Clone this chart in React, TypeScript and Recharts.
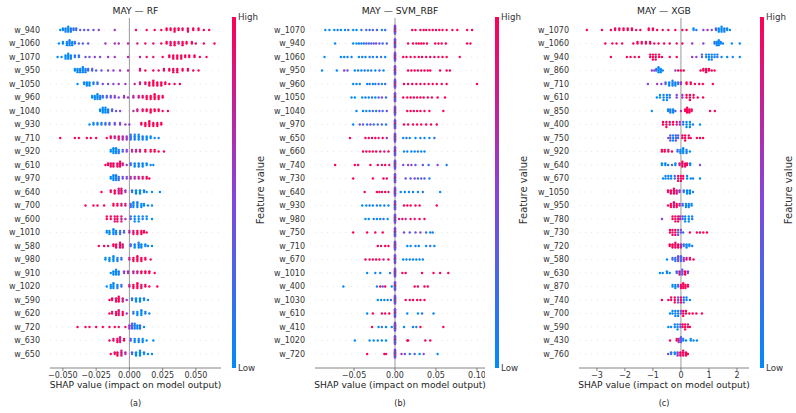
import { useMemo } from "react";
import { ScatterChart, Scatter, XAxis, YAxis, ReferenceLine } from "recharts";

// [shap value, feature value 0 (low) .. 1 (high), count]
type Pt = [number, number, number];

const RF_FEATURES = ["w_940", "w_1060", "w_1070", "w_950", "w_1050", "w_960", "w_1040", "w_930", "w_710", "w_920", "w_610", "w_970", "w_640", "w_700", "w_600", "w_1010", "w_580", "w_980", "w_910", "w_1020", "w_590", "w_620", "w_720", "w_630", "w_650"];
const RF_POINTS: Pt[][] = [
  [[-0.052,0,1],[-0.050,0,2],[-0.048,0.1,3],[-0.046,0,4],[-0.044,0.1,3],[-0.042,0.2,2],[-0.040,0.2,2],[-0.037,0.3,1],[-0.034,0.4,1],[-0.031,0.3,1],[-0.027,0.4,1],[-0.023,0.5,1],[-0.011,0.6,1],[0.005,0.9,1],[0.013,1,1],[0.019,1,1],[0.024,1,1],[0.028,1,2],[0.031,1,2],[0.034,1,3],[0.037,1,2],[0.040,0.9,2],[0.044,1,3],[0.048,1,2],[0.052,1,2],[0.056,1,1],[0.060,1,1]],
  [[-0.053,0,1],[-0.050,0,2],[-0.047,0,3],[-0.045,0.1,4],[-0.043,0,3],[-0.041,0.2,2],[-0.038,0.3,1],[-0.035,0.3,1],[-0.031,0.4,1],[-0.018,0.6,1],[-0.011,0.6,1],[-0.008,0.7,1],[-0.001,0.7,1],[0.006,0.8,1],[0.012,0.9,1],[0.018,0.9,1],[0.024,1,1],[0.028,1,2],[0.031,0.9,3],[0.034,1,3],[0.037,0.8,2],[0.040,1,3],[0.043,1,2],[0.047,1,2],[0.050,0.9,1],[0.056,1,1],[0.064,1,1]],
  [[-0.054,0,1],[-0.051,0,1],[-0.048,0,3],[-0.046,0,4],[-0.044,0.1,3],[-0.041,0.1,2],[-0.038,0.2,2],[-0.033,0.4,1],[-0.030,0.4,1],[-0.026,0.5,1],[-0.022,0.5,1],[-0.016,0.6,1],[-0.011,0.6,1],[-0.001,0.7,1],[0.008,0.8,1],[0.013,0.9,1],[0.018,0.9,1],[0.025,1,1],[0.030,1,2],[0.033,1,3],[0.036,1,3],[0.039,0.9,3],[0.042,1,2],[0.045,1,2],[0.049,1,2],[0.053,1,1],[0.058,1,1]],
  [[-0.041,0,2],[-0.039,0,3],[-0.037,0.1,3],[-0.035,0,4],[-0.033,0.1,3],[-0.031,0.2,2],[-0.028,0.3,2],[-0.025,0.3,1],[-0.021,0.4,1],[-0.016,0.5,1],[-0.012,0.5,1],[-0.007,0.6,1],[-0.001,0.7,1],[0.008,0.9,2],[0.012,1,1],[0.018,1,1],[0.022,0.9,1],[0.026,1,2],[0.030,1,2],[0.033,1,3],[0.036,1,3],[0.040,1,2],[0.044,1,2],[0.048,1,1],[0.052,1,1]],
  [[-0.039,0,1],[-0.034,0,2],[-0.032,0,3],[-0.030,0,3],[-0.027,0.1,2],[-0.024,0.2,2],[-0.020,0.4,1],[-0.016,0.4,1],[-0.012,0.5,1],[-0.008,0.6,1],[-0.003,0.6,1],[0.004,0.8,1],[0.008,0.8,2],[0.012,0.9,2],[0.015,1,3],[0.018,1,4],[0.021,1,3],[0.024,1,3],[0.027,1,2],[0.030,1,1],[0.034,1,1],[0.038,1,1]],
  [[-0.028,0,2],[-0.026,0,3],[-0.024,0,4],[-0.022,0.1,3],[-0.020,0.2,2],[-0.017,0.3,2],[-0.014,0.4,2],[-0.011,0.5,2],[-0.008,0.5,1],[-0.004,0.6,2],[-0.001,0.6,1],[0.003,0.7,2],[0.007,0.8,2],[0.010,0.9,2],[0.013,1,3],[0.016,1,3],[0.019,1,4],[0.022,1,3],[0.025,1,2]],
  [[-0.022,0,2],[-0.020,0,4],[-0.018,0,4],[-0.016,0.1,3],[-0.013,0.3,2],[-0.010,0.4,1],[-0.007,0.5,1],[0.003,0.7,1],[0.006,0.8,2],[0.010,0.9,2],[0.013,1,2],[0.016,1,3],[0.019,1,2],[0.022,1,2],[0.025,1,1],[0.029,1,1]],
  [[-0.030,0,1],[-0.027,0,2],[-0.024,0.1,2],[-0.021,0.1,2],[-0.018,0.2,2],[-0.015,0.3,2],[-0.011,0.4,2],[-0.007,0.5,2],[-0.003,0.6,1],[0.000,0.5,1],[0.009,1,2],[0.012,1,3],[0.015,1,4],[0.018,1,3],[0.021,1,3],[0.024,1,2]],
  [[-0.052,1,1],[-0.041,1,1],[-0.038,1,1],[-0.032,1,1],[-0.029,1,1],[-0.025,1,1],[-0.017,0.9,1],[-0.014,1,2],[-0.011,0.8,2],[-0.008,0.9,3],[-0.005,0.7,3],[-0.002,0.6,3],[0.001,0.2,4],[0.004,0.1,4],[0.007,0,4],[0.010,0.1,3],[0.013,0,3],[0.016,0,2],[0.019,0,1],[0.022,0.1,1]],
  [[-0.014,0,2],[-0.012,0,4],[-0.010,0,4],[-0.008,0.1,3],[-0.005,0.3,2],[-0.002,0.5,2],[0.002,0.7,2],[0.005,0.8,2],[0.008,0.9,2],[0.012,1,2],[0.016,1,2],[0.019,1,2],[0.022,1,1],[0.026,1,1]],
  [[-0.018,1,1],[-0.016,1,2],[-0.014,0.9,3],[-0.012,1,3],[-0.009,0.9,3],[-0.007,1,4],[-0.005,0.8,2],[-0.002,0.6,1],[0.001,0.3,2],[0.004,0,3],[0.007,0.1,3],[0.010,0,3],[0.013,0,2],[0.016,0.1,1],[0.018,0,1]],
  [[-0.014,0,2],[-0.012,0,4],[-0.010,0.1,4],[-0.008,0.2,3],[-0.005,0.4,2],[-0.002,0.5,2],[0.001,0.6,2],[0.004,0.7,2],[0.007,0.8,2],[0.010,0.9,2],[0.013,1,2],[0.015,1,1]],
  [[-0.021,1,1],[-0.014,0.9,2],[-0.011,1,3],[-0.008,0.8,4],[-0.006,0.9,4],[-0.003,0.6,2],[0.002,0.2,2],[0.005,0,3],[0.008,0,3],[0.011,0.1,2],[0.013,0,1],[0.017,0,1],[0.023,0,1]],
  [[-0.033,1,1],[-0.027,1,1],[-0.024,1,1],[-0.019,1,1],[-0.012,1,2],[-0.009,1,2],[-0.006,0.9,2],[-0.003,0.8,2],[0.001,0.3,3],[0.003,0,4],[0.006,0.1,4],[0.009,0,3],[0.011,0,2],[0.014,0.1,1],[0.017,0,1]],
  [[-0.017,1,2],[-0.014,1,2],[-0.011,0.9,3],[-0.009,1,3],[-0.006,0.8,3],[-0.003,0.6,1],[0.001,0.3,2],[0.004,0,3],[0.007,0,3],[0.010,0.1,2],[0.013,0,2],[0.017,0,1]],
  [[-0.017,0,2],[-0.015,0,3],[-0.012,0,4],[-0.010,0.1,3],[-0.007,0.2,3],[-0.004,0.3,2],[0.000,0.7,2],[0.003,0.9,3],[0.006,1,3],[0.009,1,3],[0.011,1,2],[0.013,1,1]],
  [[-0.023,1,1],[-0.019,1,1],[-0.016,0.9,1],[-0.012,1,2],[-0.010,0.9,3],[-0.007,1,4],[-0.005,0.8,3],[0.001,0.3,2],[0.004,0,3],[0.007,0.1,4],[0.009,0,3],[0.012,0,2],[0.014,0.1,1],[0.017,0,1]],
  [[-0.018,0,2],[-0.015,0,3],[-0.012,0,4],[-0.009,0.1,3],[-0.006,0.2,2],[0.000,0.8,2],[0.003,1,3],[0.006,1,4],[0.009,1,3],[0.012,1,2],[0.016,0.9,1]],
  [[-0.014,0,1],[-0.012,0,3],[-0.010,0,4],[-0.008,0.1,3],[-0.004,0.5,2],[-0.001,0.6,2],[0.003,0.7,2],[0.006,0.8,2],[0.009,1,2],[0.012,1,2],[0.015,1,2],[0.019,1,1]],
  [[-0.017,0,1],[-0.014,0,3],[-0.012,0,4],[-0.009,0.1,3],[-0.006,0.2,2],[0.000,0.8,2],[0.003,1,3],[0.006,1,4],[0.009,0.9,3],[0.012,1,2],[0.015,1,1],[0.021,1,1]],
  [[-0.015,1,1],[-0.013,1,2],[-0.010,0.9,3],[-0.008,1,4],[-0.005,0.8,3],[-0.002,0.6,1],[0.002,0.2,2],[0.005,0,3],[0.008,0,3],[0.011,0.1,2],[0.014,0,1]],
  [[-0.015,1,1],[-0.013,0.9,2],[-0.010,1,3],[-0.008,0.8,4],[-0.005,1,3],[-0.002,0.6,1],[0.003,0.2,2],[0.006,0,3],[0.009,0,4],[0.012,0.1,2],[0.015,0,1]],
  [[-0.039,1,1],[-0.033,1,1],[-0.030,1,1],[-0.025,1,1],[-0.020,1,1],[-0.015,1,1],[-0.011,1,1],[-0.008,0.9,1],[-0.003,0.9,1],[0.000,0.6,3],[0.002,0.3,4],[0.004,0.1,4],[0.006,0,3],[0.008,0.2,3],[0.011,0,1]],
  [[-0.015,1,1],[-0.012,0.9,2],[-0.009,1,3],[-0.007,0.8,4],[-0.004,1,2],[0.001,0.4,2],[0.004,0,3],[0.007,0.1,3],[0.010,0,3],[0.013,0,1],[0.018,0,1]],
  [[-0.014,1,1],[-0.011,0.9,2],[-0.009,1,3],[-0.006,0.8,4],[-0.003,0.7,2],[0.002,0.3,2],[0.005,0,3],[0.008,0,4],[0.011,0.1,2],[0.014,0,1],[0.017,0,1]],
];

const SVM_FEATURES = ["w_1070", "w_940", "w_1060", "w_950", "w_960", "w_1050", "w_1040", "w_970", "w_650", "w_660", "w_740", "w_730", "w_640", "w_930", "w_980", "w_750", "w_710", "w_670", "w_1010", "w_400", "w_1030", "w_610", "w_410", "w_1020", "w_720"];
// samples whose SVM contribution is ~0 (stacked on the zero line in every row)
const SVM_ZERO: Pt[] = [[0,1,2],[0,0,2],[0,1,2],[0,0,2],[0,1,2],[0,0,2],[0,0.5,2]];
const SVM_POINTS: Pt[][] = [
  [[-0.085,0,1],[-0.080,0,1],[-0.074,0,1],[-0.070,0.1,1],[-0.066,0,1],[-0.061,0,1],[-0.057,0.2,1],[-0.051,0,1],[-0.047,0,1],[-0.041,0.1,1],[-0.035,0.3,1],[-0.031,0.2,1],[-0.027,0.3,1],[-0.022,0.3,1],[-0.016,0,1],[-0.012,0.2,1],[0.021,1,1],[0.025,1,1],[0.031,1,1],[0.035,1,1],[0.038,0.9,1],[0.042,1,1],[0.046,1,1],[0.050,1,1],[0.054,1,1],[0.058,0.9,1],[0.063,1,1],[0.070,1,1],[0.076,1,1],[0.088,1,1],[0.094,1,1]],
  [[-0.073,0,1],[-0.051,0,1],[-0.047,0,1],[-0.044,0.1,1],[-0.041,0,1],[-0.038,0.2,1],[-0.035,0.3,1],[-0.032,0.2,1],[-0.029,0.4,1],[-0.026,0.3,1],[-0.023,0.5,1],[-0.019,0.4,1],[-0.015,0.2,1],[-0.010,0.3,1],[0.016,1,1],[0.022,1,1],[0.026,0.9,1],[0.029,1,1],[0.032,1,1],[0.035,1,1],[0.039,1,1],[0.049,1,1],[0.053,1,1],[0.057,1,1],[0.062,1,1],[0.088,1,1],[0.092,1,1]],
  [[-0.086,0,1],[-0.066,0,1],[-0.062,0,1],[-0.058,0.1,1],[-0.053,0,1],[-0.044,0,1],[-0.040,0.1,1],[-0.036,0,1],[-0.031,0.2,1],[-0.027,0,1],[-0.022,0.1,1],[-0.017,0.2,1],[-0.012,0,1],[0.010,1,1],[0.014,1,1],[0.019,1,1],[0.024,1,1],[0.029,1,1],[0.033,1,1],[0.038,1,1],[0.043,1,1],[0.048,0.9,1],[0.053,1,1],[0.058,1,1],[0.063,1,1],[0.079,1,1]],
  [[-0.089,0,1],[-0.071,0,1],[-0.062,0.5,1],[-0.058,0.4,1],[-0.049,0,1],[-0.045,0.1,1],[-0.041,0,1],[-0.037,0.2,1],[-0.033,0,1],[-0.029,0.1,1],[-0.024,0,1],[-0.019,0.3,1],[-0.014,0,1],[0.016,1,1],[0.020,1,1],[0.024,1,1],[0.028,1,1],[0.032,1,1],[0.036,1,1],[0.040,1,1],[0.043,1,1],[0.055,1,1],[0.063,1,1],[0.067,1,1]],
  [[-0.051,0,1],[-0.047,0,1],[-0.043,0.1,1],[-0.034,0,1],[-0.031,0.2,1],[-0.027,0,1],[-0.024,0.1,1],[-0.020,0.3,1],[-0.016,0,1],[-0.012,0.2,1],[0.011,1,1],[0.016,1,1],[0.021,1,1],[0.026,1,1],[0.031,1,1],[0.036,1,1],[0.041,1,1],[0.046,1,1],[0.051,1,1],[0.057,1,1],[0.063,1,1],[0.100,1,1]],
  [[-0.053,0,1],[-0.049,0,1],[-0.040,0,1],[-0.036,0.1,1],[-0.032,0,1],[-0.028,0.2,1],[-0.024,0,1],[-0.020,0.3,1],[-0.016,0.5,1],[-0.011,0.2,1],[0.010,1,1],[0.015,1,1],[0.019,1,1],[0.023,1,1],[0.027,1,1],[0.031,1,1],[0.035,1,1],[0.040,1,1],[0.045,1,1],[0.052,1,1],[0.061,1,1]],
  [[-0.047,0,1],[-0.039,0,1],[-0.035,0.1,1],[-0.031,0,1],[-0.027,0.3,1],[-0.023,0.1,1],[-0.019,0.4,1],[-0.015,0.2,1],[-0.010,0.4,1],[0.015,1,1],[0.019,1,1],[0.023,1,1],[0.027,1,1],[0.031,1,1],[0.036,1,1],[0.042,1,1],[0.059,1,1]],
  [[-0.051,0,1],[-0.043,0.4,1],[-0.039,0.3,1],[-0.034,0.2,1],[-0.030,0.5,1],[-0.026,0.1,1],[-0.021,0.3,1],[-0.016,0.2,1],[-0.011,0.1,1],[0.011,1,1],[0.016,1,1],[0.022,1,1],[0.027,1,1],[0.032,1,1],[0.038,1,1],[0.044,1,1],[0.051,1,1]],
  [[-0.055,1,1],[-0.036,1,1],[-0.032,0.9,1],[-0.028,1,1],[-0.024,1,1],[-0.020,0.8,1],[-0.015,1,1],[-0.010,0.7,1],[0.010,0,1],[0.014,0.2,1],[0.018,0,1],[0.025,0,1],[0.031,0.1,1],[0.036,0,1],[0.042,0,1],[0.048,0.2,1]],
  [[-0.039,1,1],[-0.035,1,1],[-0.031,1,1],[-0.027,0.9,1],[-0.023,1,1],[-0.018,1,1],[-0.013,0.8,1],[-0.008,1,1],[0.011,0,1],[0.015,0.1,1],[0.020,0,1],[0.024,0,1],[0.028,0.2,1],[0.032,0,1],[0.036,0,1]],
  [[-0.073,1,1],[-0.049,1,1],[-0.045,1,1],[-0.030,1,1],[-0.021,1,1],[-0.016,0.9,1],[-0.012,1,1],[-0.007,0.8,1],[0.010,0.5,1],[0.016,0.4,1],[0.020,0.6,1],[0.025,0.3,1],[0.034,0.4,1],[0.041,0.2,1],[0.052,0.5,1],[0.063,0.1,1]],
  [[-0.051,1,1],[-0.027,1,1],[-0.014,1,1],[-0.010,0.9,1],[0.013,0.4,1],[0.019,0.3,1],[0.024,0.5,1],[0.028,0.2,1],[0.032,0.4,1],[0.036,0.3,1],[0.042,0.1,1]],
  [[-0.037,1,1],[-0.022,1,1],[-0.019,0.9,1],[-0.016,1,1],[-0.012,1,1],[-0.008,0.8,1],[0.007,0,1],[0.012,0,1],[0.017,0.1,1],[0.022,0,1],[0.028,0,1],[0.034,0.2,1],[0.055,0,1]],
  [[-0.040,0,1],[-0.035,0,1],[-0.031,0.1,1],[-0.027,0,1],[-0.022,0.2,1],[-0.018,0,1],[-0.013,0.1,1],[-0.008,0,1],[0.011,1,1],[0.015,1,1],[0.019,1,1],[0.025,1,1],[0.030,1,1],[0.051,1,1]],
  [[-0.036,0,1],[-0.032,0,1],[-0.026,0.1,1],[-0.022,0,1],[-0.018,0,1],[-0.014,0.2,1],[-0.009,0,1],[0.005,0.8,1],[0.009,1,1],[0.013,0.7,1],[0.019,1,1],[0.024,0.9,1],[0.030,1,1],[0.036,1,1]],
  [[-0.051,1,1],[-0.034,1,1],[-0.024,1,1],[-0.015,1,1],[0.011,0.5,1],[0.018,0.3,1],[0.025,0.4,1],[0.031,0.5,1],[0.038,0.2,1],[0.043,0,1],[0.046,0.1,1]],
  [[-0.021,1,1],[-0.017,0.9,1],[-0.012,1,1],[-0.008,1,1],[0.015,0,1],[0.019,0,1],[0.025,0.1,1],[0.029,0,1],[0.038,0,1],[0.043,0.2,1],[0.048,0,1]],
  [[-0.036,1,1],[-0.031,1,1],[-0.027,0.9,1],[-0.023,1,1],[-0.019,1,1],[-0.014,0.8,1],[-0.008,1,1],[0.010,0,1],[0.014,0,1],[0.018,0.1,1],[0.022,0,1],[0.026,0,1],[0.030,0.1,1],[0.034,0,1]],
  [[-0.034,0,1],[-0.024,0.1,1],[-0.018,0,1],[-0.006,0.2,1],[0.009,1,1],[0.013,1,1],[0.033,1,1],[0.047,1,1],[0.055,1,1],[0.065,1,1]],
  [[-0.063,0,1],[-0.022,0,1],[-0.018,1,1],[-0.015,0.2,1],[-0.012,1,1],[-0.004,0,1],[0.024,1,1],[0.028,1,1],[0.036,1,1],[0.040,1,1]],
  [[-0.021,0,1],[-0.017,0,1],[-0.013,0.1,1],[-0.009,0,1],[-0.005,0.2,1],[0.013,1,1],[0.018,1,1],[0.022,1,1],[0.027,1,1],[0.031,1,1],[0.036,1,1]],
  [[-0.034,0,1],[-0.027,1,1],[-0.016,1,1],[-0.012,0.9,1],[-0.007,1,1],[0.015,0,1],[0.028,0,1],[0.033,0.1,1],[0.047,0,1]],
  [[-0.028,1,1],[-0.020,0,1],[-0.016,0.2,1],[-0.011,0,1],[-0.004,0,1],[0.011,0,1],[0.022,0.1,1],[0.026,0,1],[0.031,1,1],[0.059,1,1]],
  [[-0.049,0,1],[-0.031,0,1],[-0.026,0,1],[-0.021,0.1,1],[-0.016,0,1],[-0.011,0,1],[0.015,1,1],[0.016,1,1],[0.037,1,1],[0.043,1,1]],
  [[-0.034,1,1],[-0.013,1,1],[-0.011,0.9,1],[0.008,0.6,1],[0.012,0.4,1],[0.018,0.2,1],[0.024,0.3,1],[0.030,0,1],[0.035,0.5,1],[0.052,0,1]],
];

const XGB_FEATURES = ["w_1070", "w_1060", "w_940", "w_860", "w_710", "w_610", "w_850", "w_400", "w_750", "w_920", "w_640", "w_670", "w_1050", "w_950", "w_780", "w_730", "w_720", "w_580", "w_630", "w_870", "w_740", "w_700", "w_590", "w_430", "w_760"];
const XGB_POINTS: Pt[][] = [
  [[-3.36,1,1],[-2.82,1,1],[-2.5,1,1],[-2.35,1,2],[-2.2,0.9,2],[-2.05,1,2],[-1.9,1,2],[-1.75,1,2],[-1.6,0.9,1],[-1.45,1,1],[-1.15,1,2],[-1.0,1,2],[-0.85,1,1],[-0.65,0.9,1],[-0.45,1,1],[-0.2,1,1],[0.05,0.9,1],[0.2,1,1],[0.45,0,2],[0.55,0.2,1],[0.8,0.5,1],[0.95,0.6,1],[1.1,0.5,1],[1.25,0.3,2],[1.35,0,3],[1.45,0,4],[1.55,0.1,3],[1.65,0,2],[1.75,0,1]],
  [[-2.7,1,1],[-2.45,1,1],[-2.3,1,1],[-2.1,1,1],[-1.7,1,1],[-1.55,1,2],[-1.4,0.9,2],[-1.25,1,2],[-1.1,1,2],[-0.95,0.9,1],[-0.8,1,1],[-0.6,1,1],[-0.4,1,1],[-0.15,0.9,1],[0.05,1,1],[0.4,0.6,1],[0.8,0.5,1],[1.2,0.2,2],[1.28,0,3],[1.35,0,4],[1.42,0.1,2],[1.5,0,1],[1.82,0,1],[2.1,0,1]],
  [[-2.5,1,1],[-1.93,1,1],[-1.8,1,1],[-1.65,0.9,1],[-1.5,1,1],[-1.1,1,2],[-1.0,1,3],[-0.9,0.9,3],[-0.78,1,2],[-0.68,1,1],[-0.4,1,1],[-0.15,1,1],[0.4,0.6,1],[0.55,0.5,1],[0.75,0.3,2],[0.9,0.1,2],[1.0,0,3],[1.1,0.1,3],[1.2,0,2],[1.3,0.2,2],[1.45,0,1],[1.65,0,1],[1.85,0.1,1],[2.1,0,1]],
  [[-1.04,0.5,1],[-0.95,0.6,1],[-0.88,0.2,2],[-0.8,0,4],[-0.72,0,3],[-0.65,0.1,1],[-0.2,0.5,1],[-0.1,1,1],[0.0,1,1],[0.1,1,1],[0.7,1,1],[0.8,1,2],[0.9,1,3],[1.0,1,2],[1.1,1,1],[1.2,1,1]],
  [[-1.18,0.5,1],[-0.85,0.6,1],[-0.7,0.5,1],[-0.55,0.3,2],[-0.42,0,3],[-0.3,0.1,4],[-0.2,0,3],[-0.1,0.2,2],[0.0,0.6,2],[0.2,1,2],[0.35,1,2],[0.5,1,1],[0.65,1,1],[0.78,1,1],[1.14,1,1]],
  [[-0.86,0,1],[-0.75,0,2],[-0.62,0.1,3],[-0.5,0,3],[-0.4,0.2,2],[-0.15,0.5,2],[0.05,0.6,2],[0.2,1,2],[0.32,1,3],[0.45,1,2],[0.6,1,1],[0.79,1,1]],
  [[-1.04,0,1],[-0.46,0,2],[-0.38,0.1,3],[-0.28,0,3],[-0.2,0.3,1],[0.0,0.6,1],[0.15,1,2],[0.22,1,4],[0.3,1,3],[0.38,1,2],[1.04,1,1],[1.21,1,1]],
  [[-0.64,1,2],[-0.52,1,3],[-0.4,0.9,2],[-0.28,1,2],[-0.15,0.8,2],[-0.04,0.6,2],[0.08,0.2,2],[0.2,0,3],[0.32,0,3],[0.43,0.1,1],[0.68,0,1]],
  [[-0.45,0.5,1],[-0.38,0.3,3],[-0.28,0,3],[-0.18,0.4,3],[-0.1,0.2,2],[0.05,1,2],[0.15,1,3],[0.28,0.9,2],[0.35,1,1],[0.57,1,1],[0.68,1,1],[0.79,1,1]],
  [[-0.68,1,2],[-0.58,1,2],[-0.45,0.9,2],[-0.32,1,1],[-0.12,0.2,2],[-0.02,0,3],[0.08,0,4],[0.2,0.1,3],[0.32,0,1]],
  [[-0.68,0,2],[-0.56,0,2],[-0.46,0.1,1],[-0.32,0.3,1],[-0.2,0,2],[-0.05,0.8,2],[0.05,1,4],[0.15,0.9,3],[0.22,1,2],[0.33,0,2],[0.68,0.4,1]],
  [[-0.64,0,1],[-0.55,0,2],[-0.45,0.1,2],[-0.35,0,2],[-0.22,0.2,2],[-0.1,1,3],[0.0,0.9,3],[0.08,1,2],[0.22,0,2],[0.35,0,1],[0.43,0.1,1],[0.68,0,1]],
  [[-0.46,1,2],[-0.36,0.9,3],[-0.25,1,4],[-0.15,0.8,3],[-0.05,0.6,2],[0.1,0.2,2],[0.22,0,3],[0.32,0,3],[0.43,0.1,1]],
  [[-0.46,1,1],[-0.36,1,3],[-0.25,0.9,4],[-0.15,1,3],[-0.05,0.7,2],[0.06,0.3,2],[0.18,0,3],[0.28,0.1,3],[0.38,0,2]],
  [[-0.68,0.5,1],[-0.3,1,2],[-0.2,0.9,3],[-0.1,1,3],[-0.03,0.7,2],[0.06,0.3,2],[0.15,0,3],[0.28,0,3],[0.4,0.1,2]],
  [[-0.39,1,2],[-0.3,0.9,3],[-0.2,1,3],[-0.1,0.3,3],[0.0,0.5,2],[0.08,0.2,1],[0.32,1,1],[0.57,1,1],[0.68,1,1],[0.8,1,1],[0.93,1,1]],
  [[-0.4,1,2],[-0.3,1,3],[-0.2,0.9,4],[-0.1,1,3],[0.0,0.7,3],[0.1,0.2,2],[0.2,0,3],[0.3,0,2],[0.4,0.1,1]],
  [[-0.5,0,1],[-0.3,0.3,2],[-0.2,0.1,3],[-0.1,0.5,4],[0.0,0.2,4],[0.1,0.6,3],[0.2,0.8,2],[0.32,1,2],[0.45,1,1]],
  [[-0.75,0,1],[-0.65,0,1],[-0.5,0.1,2],[-0.4,0,1],[-0.15,0.2,2],[-0.05,0.8,3],[0.05,0.3,4],[0.15,1,3],[0.25,0.5,2]],
  [[-0.3,0,2],[-0.2,0,3],[-0.1,0.3,2],[0.0,1,3],[0.08,0.9,4],[0.16,1,3],[0.25,1,2]],
  [[-0.68,1,1],[-0.45,1,1],[-0.35,0.9,2],[-0.22,1,3],[-0.1,0.4,3],[0.0,1,3],[0.1,0.2,3],[0.2,0,2],[0.32,0.1,1]],
  [[-0.39,0,1],[-0.3,0,2],[-0.2,0.1,3],[-0.1,0,3],[0.0,0.5,2],[0.08,1,3],[0.18,1,2],[0.3,1,1],[0.42,1,1],[0.55,1,1],[0.75,1,1]],
  [[-0.45,0,1],[-0.35,0,1],[-0.22,0.1,2],[-0.12,0,3],[-0.02,0.4,2],[0.06,1,2],[0.15,1,3],[0.25,0.9,2],[0.32,1,1]],
  [[-0.39,1,1],[-0.15,1,2],[-0.08,0.7,3],[0.0,0.3,4],[0.08,0.1,2],[0.18,0,1],[0.35,0,2],[0.45,0,1],[0.57,0.1,1]],
  [[-0.46,0.4,1],[-0.35,0.2,2],[-0.22,0,2],[-0.12,0.5,3],[-0.02,1,3],[0.08,0.9,4],[0.18,1,3],[0.25,1,1]],
];

const RF_TICKS = [-0.05, -0.025, 0, 0.025, 0.05];
const SVM_TICKS = [-0.05, 0, 0.05, 0.1];
const XGB_TICKS = [-3, -2, -1, 0, 1, 2];

const FONT = "'DejaVu Sans', sans-serif";
const BLUE = [0, 139, 251];
const MID = [135, 68, 218];
const RED = [255, 0, 82];

function colorFor(f: number) {
  const [a, b, t] = f < 0.5 ? [BLUE, MID, f * 2] : [MID, RED, (f - 0.5) * 2];
  const c = a.map((v, i) => Math.round(v + (b[i] - v) * t));
  return `rgb(${c[0]},${c[1]},${c[2]})`;
}

// shap-style beeswarm: bin along x, stack alternately above/below the row
function swarm(rows: Pt[][]) {
  const out: { x: number; y: number; c: string }[] = [];
  rows.forEach((row, ri) => {
    const pts: { s: number; f: number }[] = [];
    row.forEach(([s, f, n]) => {
      for (let k = 0; k < n; k++) pts.push({ s, f });
    });
    const lo = Math.min(...pts.map((p) => p.s));
    const hi = Math.max(...pts.map((p) => p.s));
    const q = pts.map((p) => Math.round((100 * (p.s - lo)) / (hi - lo + 1e-8)));
    const order = pts.map((_, i) => i).sort((a, b) => q[a] - q[b] || a - b);
    const ys = new Array(pts.length).fill(0);
    let layer = 0;
    let last = -1;
    for (const i of order) {
      if (q[i] !== last) layer = 0;
      ys[i] = Math.ceil(layer / 2) * ((layer % 2) * 2 - 1);
      layer++;
      last = q[i];
    }
    const k = (0.9 * 0.4) / Math.max(...ys.map((y) => y + 1));
    pts.forEach((p, i) => out.push({ x: p.s, y: ri - ys[i] * k, c: colorFor(p.f) }));
  });
  return out;
}

const minus = (s: string) => s.replace("-", "\u2212");

const Dot = (props: any) => {
  const { cx, cy, payload } = props;
  if (cx == null || cy == null) return <g />;
  return <circle cx={cx} cy={cy} r={1.2} fill={payload.c} />;
};

function Text({ x, y, size, children, rotate, color = "#222", align = "center" }: any) {
  return (
    <div
      style={{
        position: "absolute",
        left: x,
        top: y,
        transform: `translate(${align === "left" ? "0" : "-50%"}, -50%)${rotate ? " rotate(-90deg)" : ""}`,
        fontSize: size,
        color,
        whiteSpace: "nowrap",
        lineHeight: 1,
      }}
    >
      {children}
    </div>
  );
}

interface PanelProps {
  left: number;
  width: number;
  title: string;
  tag: string;
  features: string[];
  points: Pt[][];
  domain: [number, number];
  ticks: number[];
  fmt: (v: number) => string;
  cbX: number;
}

function Panel({ left, width, title, tag, features, points, domain, ticks, fmt, cbX }: PanelProps) {
  const data = useMemo(() => swarm(points), [points]);
  const rows = features.map((_, i) => i);
  const mid = left + 50 + (width - 50) / 2;
  return (
    <>
      <div style={{ position: "absolute", left, top: 0 }}>
        <ScatterChart width={width} height={413} margin={{ top: 18, right: 0, bottom: 0, left: 0 }}>
          <XAxis
            type="number"
            dataKey="x"
            domain={domain}
            ticks={ticks}
            tickFormatter={fmt}
            allowDataOverflow
            interval={0}
            height={45}
            axisLine={{ stroke: "#666", strokeWidth: 0.8 }}
            tickLine={{ stroke: "#666", strokeWidth: 0.8 }}
            tickSize={3}
            tickMargin={1}
            tick={{ fontSize: 8, fill: "#333", fontFamily: FONT }}
          />
          <YAxis
            type="number"
            dataKey="y"
            domain={[-0.89, features.length + 0.04]}
            reversed
            ticks={rows}
            tickFormatter={(v: number) => features[v]}
            allowDataOverflow
            interval={0}
            width={50}
            axisLine={false}
            tickLine={false}
            tickSize={0}
            tickMargin={10}
            tick={{ fontSize: 8, fill: "#333", fontFamily: FONT }}
          />
          {rows.map((i) => (
            <ReferenceLine key={i} y={i} stroke="#cccccc" strokeWidth={0.5} strokeDasharray="1 5" />
          ))}
          <ReferenceLine x={0} stroke="#999999" strokeWidth={1} />
          <Scatter data={data} isAnimationActive={false} shape={Dot} />
        </ScatterChart>
      </div>
      <Text x={mid} y={11} size={9.2}>{title}</Text>
      <Text x={mid} y={386} size={9.1}>SHAP value (impact on model output)</Text>
      <Text x={mid} y={404} size={8}>{tag}</Text>
      <div
        style={{
          position: "absolute",
          left: cbX,
          top: 17,
          width: 4,
          height: 351,
          background: `linear-gradient(to top, ${colorFor(0)}, ${colorFor(0.5)}, ${colorFor(1)})`,
        }}
      />
      <Text x={cbX + 6} y={17} size={8.7} color="#333" align="left">High</Text>
      <Text x={cbX + 6} y={368} size={8.7} color="#333" align="left">Low</Text>
      <Text x={cbX + 29} y={190} size={10} color="#333" rotate>Feature value</Text>
    </>
  );
}

export default function App() {
  return (
    <div style={{ position: "relative", width: 796, height: 413, overflow: "hidden", fontFamily: FONT, background: "#fff" }}>
      <style>{"body{margin:0}"}</style>
      <Panel
        left={0}
        width={221}
        title="MAY — RF"
        tag="(a)"
        features={RF_FEATURES}
        points={RF_POINTS}
        domain={[-0.0597, 0.0689]}
        ticks={RF_TICKS}
        fmt={(v) => minus(v.toFixed(3))}
        cbX={232}
      />
      <Panel
        left={265}
        width={220}
        title="MAY — SVM_RBF"
        tag="(b)"
        features={SVM_FEATURES}
        points={SVM_POINTS.map((r) => [...r, ...SVM_ZERO])}
        domain={[-0.0976, 0.1098]}
        ticks={SVM_TICKS}
        fmt={(v) => minus(v.toFixed(2))}
        cbX={495}
      />
      <Panel
        left={529}
        width={220}
        title="MAY — XGB"
        tag="(c)"
        features={XGB_FEATURES}
        points={XGB_POINTS}
        domain={[-3.64, 2.43]}
        ticks={XGB_TICKS}
        fmt={(v) => minus(String(v))}
        cbX={760}
      />
    </div>
  );
}
